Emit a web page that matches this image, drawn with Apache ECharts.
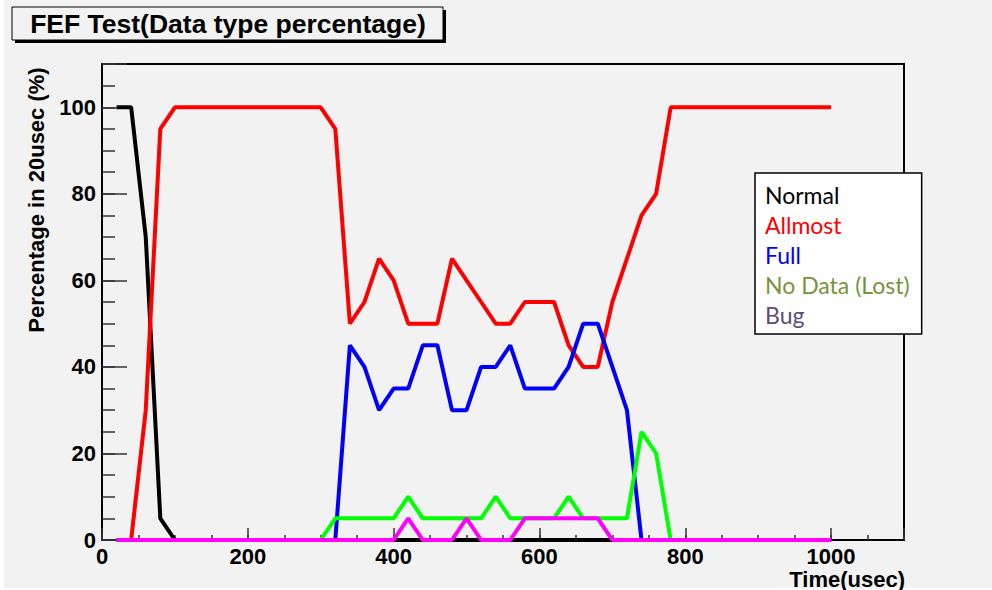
<!DOCTYPE html>
<html>
<head>
<meta charset="utf-8">
<style>
  html, body { margin: 0; padding: 0; background: #ffffff; }
  #chart { width: 992px; height: 590px; }
</style>
<script src="https://cdn.jsdelivr.net/npm/echarts@6/dist/echarts.min.js"></script>
</head>
<body>
<div id="chart"></div>
<script>
// Sample times (usec), one sample every 20 usec
const timeUs = [20, 40, 60, 80, 100, 120, 140, 160, 180, 200,
                220, 240, 260, 280, 300, 320, 340, 360, 380, 400,
                420, 440, 460, 480, 500, 520, 540, 560, 580, 600,
                620, 640, 660, 680, 700, 720, 740, 760, 780, 800,
                820, 840, 860, 880, 900, 920, 940, 960, 980, 1000];

// Percentage of each data type in every 20 usec window
const normal = [100, 100, 70, 5, 0, 0, 0, 0, 0, 0,
                0, 0, 0, 0, 0, 0, 0, 0, 0, 0,
                0, 0, 0, 0, 0, 0, 0, 0, 0, 0,
                0, 0, 0, 0, 0, 0, 0, 0, 0, 0,
                0, 0, 0, 0, 0, 0, 0, 0, 0, 0];
const allmost = [0, 0, 30, 95, 100, 100, 100, 100, 100, 100,
                 100, 100, 100, 100, 100, 95, 50, 55, 65, 60,
                 50, 50, 50, 65, 60, 55, 50, 50, 55, 55,
                 55, 45, 40, 40, 55, 65, 75, 80, 100, 100,
                 100, 100, 100, 100, 100, 100, 100, 100, 100, 100];
const full = [0, 0, 0, 0, 0, 0, 0, 0, 0, 0,
              0, 0, 0, 0, 0, 0, 45, 40, 30, 35,
              35, 45, 45, 30, 30, 40, 40, 45, 35, 35,
              35, 40, 50, 50, 40, 30, 0, 0, 0, 0,
              0, 0, 0, 0, 0, 0, 0, 0, 0, 0];
const noData = [0, 0, 0, 0, 0, 0, 0, 0, 0, 0,
                0, 0, 0, 0, 0, 5, 5, 5, 5, 5,
                10, 5, 5, 5, 5, 5, 10, 5, 5, 5,
                5, 10, 5, 5, 5, 5, 25, 20, 0, 0,
                0, 0, 0, 0, 0, 0, 0, 0, 0, 0];
const bug = [0, 0, 0, 0, 0, 0, 0, 0, 0, 0,
             0, 0, 0, 0, 0, 0, 0, 0, 0, 0,
             5, 0, 0, 0, 5, 0, 0, 0, 5, 5,
             5, 5, 5, 5, 0, 0, 0, 0, 0, 0,
             0, 0, 0, 0, 0, 0, 0, 0, 0, 0];

const seriesNames = ['Normal', 'Allmost', 'Full', 'No Data (Lost)', 'Bug'];
const seriesValues = [normal, allmost, full, noData, bug];
const lineColors = ['#000000', '#ff0000', '#0000ff', '#00ff00', '#ff00ff'];
const legendColors = ['#000000', '#ff0000', '#0000ff', '#77933c', '#604a7b'];

const titleText = 'FEF Test(Data type percentage)';
const xTitle = 'Time(usec)';
const yTitle = 'Percentage in 20usec (%)';

const labelFont = '"Liberation Sans", Arial, Helvetica, sans-serif';

const chart = echarts.init(document.getElementById('chart'), null, { renderer: 'svg' });

const series = seriesNames.map((name, s) => ({
  name: name,
  type: 'line',
  xAxisIndex: 0,
  yAxisIndex: 0,
  symbol: 'none',
  data: timeUs.map((t, i) => [t, seriesValues[s][i]]),
  lineStyle: { color: lineColors[s], width: 4 },
  itemStyle: { color: lineColors[s] },
  z: 3 + s
}));

chart.setOption({
  animation: false,
  backgroundColor: '#f2f2f2',
  grid: {
    left: 102, right: 88, top: 64, bottom: 50,
    show: true, borderColor: '#000', borderWidth: 2,
    backgroundColor: 'transparent'
  },
  xAxis: [
    {
      type: 'value', min: 0, max: 1100, interval: 200, position: 'bottom',
      axisLine: { show: true, onZero: false, lineStyle: { color: '#000', width: 2 } },
      axisTick: { show: true, inside: true, length: 12, lineStyle: { color: '#333', width: 1.5 } },
      minorTick: { show: false },
      splitLine: { show: false },
      axisLabel: {
        margin: 5, color: '#000', fontSize: 22, fontWeight: 'bold', fontFamily: labelFont,
        formatter: v => (v > 1000 ? '' : String(v))
      }
    },
    {
      type: 'value', min: 0, max: 1100, interval: 50, position: 'bottom',
      axisLine: { show: false },
      axisTick: { show: true, inside: true, length: 5, lineStyle: { color: '#333', width: 1.5 } },
      axisLabel: { show: false },
      splitLine: { show: false }
    }
  ],
  yAxis: [
    {
      type: 'value', min: 0, max: 110, interval: 20, position: 'left',
      axisLine: { show: true, onZero: false, lineStyle: { color: '#000', width: 2 } },
      axisTick: { show: true, inside: true, length: 25, lineStyle: { color: '#333', width: 1.5 } },
      minorTick: { show: false },
      splitLine: { show: false },
      axisLabel: {
        margin: 6, color: '#000', fontSize: 22, fontWeight: 'bold', fontFamily: labelFont,
        formatter: v => (v > 100 ? '' : String(v))
      }
    },
    {
      type: 'value', min: 0, max: 110, interval: 5, position: 'left',
      axisLine: { show: false },
      axisTick: { show: true, inside: true, length: 13, lineStyle: { color: '#333', width: 1.5 } },
      axisLabel: { show: false },
      splitLine: { show: false }
    }
  ],
  legend: {
    left: 755, top: 173,
    orient: 'vertical',
    icon: 'none',
    itemWidth: 0, itemHeight: 23, itemGap: 7,
    padding: [10, 12, 8, 5],
    backgroundColor: '#ffffff',
    borderColor: '#000', borderWidth: 1.5,
    selectedMode: false,
    textStyle: { fontFamily: 'Lato, "Open Sans", sans-serif', fontSize: 23 },
    data: seriesNames.map((n, i) => ({ name: n, textStyle: { color: legendColors[i] } }))
  },
  graphic: [
    // white margin strips at the page edges
    { type: 'rect', left: 0, top: 0, shape: { width: 4, height: 590 }, style: { fill: '#ffffff' }, silent: true },
    { type: 'rect', left: 0, top: 588, shape: { width: 992, height: 2 }, style: { fill: '#ffffff' }, silent: true },
    // title box with drop shadow
    { type: 'rect', shape: { x: 15, y: 10, width: 431, height: 33 }, style: { fill: '#000' }, z: 10, silent: true },
    { type: 'rect', shape: { x: 12, y: 7, width: 431, height: 33 }, style: { fill: '#f2f2f2', stroke: '#000', lineWidth: 1 }, z: 11, silent: true },
    {
      type: 'text', x: 228, y: 24, z: 12, silent: true,
      style: { text: titleText, fill: '#000', font: 'bold 26.5px ' + labelFont, textAlign: 'center', textVerticalAlign: 'middle' }
    },
    // axis titles
    {
      type: 'text', x: 905, y: 579, z: 12, silent: true,
      style: { text: xTitle, fill: '#000', font: 'bold 22px ' + labelFont, textAlign: 'right', textVerticalAlign: 'middle' }
    },
    {
      type: 'text', x: 36, y: 200, rotation: Math.PI / 2, z: 12, silent: true,
      style: { text: yTitle, fill: '#000', font: 'bold 22px ' + labelFont, textAlign: 'center', textVerticalAlign: 'middle' }
    }
  ],
  series: series
});
</script>
</body>
</html>
